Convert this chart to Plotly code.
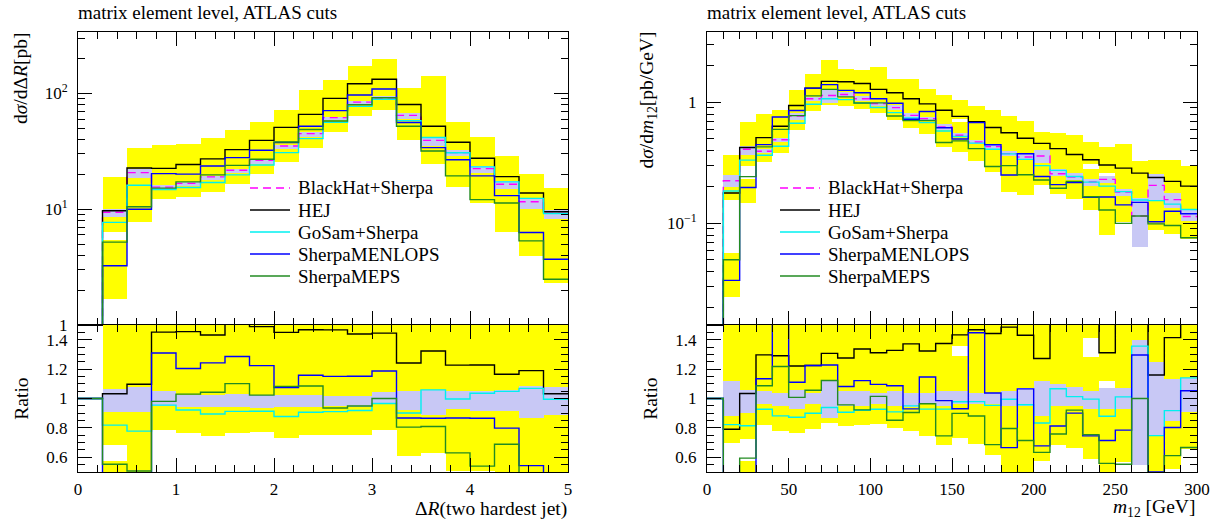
import plotly.graph_objects as go

# ---------------- data: Delta R (left) ----------------
dr_edges = [0.0, 0.25, 0.5, 0.75, 1.0, 1.25, 1.5, 1.75, 2.0, 2.25, 2.5,
            2.75, 3.0, 3.25, 3.5, 3.75, 4.0, 4.25, 4.5, 4.75, 5.0]
dr_blackhat = [0, 9.4, 20.7, 15.5, 16.7, 19.0, 21.7, 26.4, 35.1, 44.9, 61.7,
               84.1, 91.8, 64.6, 39.3, 30.8, 22.4, 16.4, 11.6, 9.2]
dr_hej = [0, 9.7, 22.7, 22.5, 24.3, 27.2, 32.7, 39.3, 50.9, 65.9, 90.5,
          121, 132.6, 80.2, 52, 37.8, 27.5, 19.1, 13.8, 9.5]
dr_gosam = [0, 7.7, 16.1, 14.8, 15.4, 17.0, 19.8, 24.1, 30.8, 40.7, 56.2,
            77.2, 88.7, 58.2, 41.6, 30.7, 23.2, 17.2, 12.4, 9.15]
dr_menlops = [0, 3.25, 10.0, 20.3, 20.1, 23.6, 27.9, 32.3, 37.7, 52, 71,
              96.8, 109, 56, 34.0, 26.7, 19.4, 13.1, 6.3, 3.7]
dr_meps = [0, 5.2, 10.5, 15.2, 17.2, 19.8, 23.9, 27, 38, 48.7, 57.7,
           79.8, 91.8, 52, 31.8, 19.4, 12.1, 11.3, 5.33, 2.48]
# BlackHat uncertainty (percent up / down)
dr_bh_up = [0, 6.4, 7.8, 4.8, 2.5, 2.5, 3.2, 2.5, 2.5, 2.5, 2,
            2, 4.1, 4.8, 5.9, 4.8, 4.8, 5.9, 8.2, 7.8]
dr_bh_dn = [0, 9.5, 9.5, 5.4, 5.9, 5.9, 5.9, 6.6, 6.1, 6, 5,
            6, 3.8, 7.7, 11, 7.2, 8.4, 8.2, 13.4, 11.1]
# yellow uncertainty bands (two bands)
dr_yel_a_lo = [None, 6.4, 7.8, 12.2, 12.8, 14.1, 16.6, 20.3, 25.6, 33.8, 46.4,
               63.4, 72, 39.3, 24.8, 15.6, 11.4, 6.4, 3.96, 2.32]
dr_yel_a_hi = [None, 18.8, 33.8, 36, 36.5, 41.2, 48, 56.6, 72, 107.6, 131,
               173, 200, 112, 140, 56.2, 41.8, 28.8, 20, 15.1]
dr_yel_b_lo = [None, 1.68] + [None] * 18
dr_yel_b_hi = [None, 5.4] + [None] * 18

# ---------------- data: m12 (right) ----------------
m12_edges = [0, 10, 20, 30, 40, 50, 60, 70, 80, 90, 100, 110, 120, 130, 140, 150,
             160, 170, 180, 190, 200, 210, 220, 230, 240, 250, 260, 270, 280, 290, 300]
m12_blackhat = [0, 0.225, 0.409, 0.394, 0.491, 0.77, 1.07, 1.14, 1.16, 1.07, 0.976,
                0.904, 0.78, 0.733, 0.625, 0.534, 0.47, 0.43, 0.377, 0.353, 0.36,
                0.257, 0.241, 0.22, 0.231, 0.181, 0.115, 0.206, 0.157, 0.114]
m12_hej = [0, 0.178, 0.423, 0.511, 0.634, 0.94, 1.31, 1.49, 1.48, 1.43, 1.28,
           1.20, 1.07, 0.97, 0.859, 0.765, 0.69, 0.62, 0.56, 0.505, 0.458,
           0.414, 0.37, 0.335, 0.303, 0.286, 0.26, 0.239, 0.222, 0.203]
m12_gosam = [0, 0.185, 0.333, 0.365, 0.433, 0.672, 0.963, 1.07, 1.052, 0.985, 0.905,
             0.822, 0.741, 0.68, 0.58, 0.522, 0.46, 0.41, 0.375, 0.338, 0.30,
             0.274, 0.244, 0.219, 0.203, 0.183, 0.156, 0.154, 0.144, 0.13]
m12_menlops = [0, 0.0338, 0.198, 0.447, 0.757, 0.855, 1.31, 1.40, 1.255, 1.20, 1.07,
               0.982, 0.725, 0.84, 0.616, 0.497, 0.68, 0.446, 0.251, 0.376, 0.244,
               0.209, 0.217, 0.164, 0.165, 0.142, 0.149, 0.103, 0.126, 0.12]
m12_meps = [0, 0.050, 0.243, 0.428, 0.598, 0.776, 1.13, 1.28, 1.11, 0.987, 0.99,
            0.77, 0.706, 0.707, 0.466, 0.48, 0.414, 0.295, 0.30, 0.252, 0.228,
            0.195, 0.222, 0.166, 0.129, 0.10, 0.115, 0.099, 0.096, 0.076]
m12_bh_up = [0, 12, 6, 5, 4, 6, 4, 12, 5, 5, 4, 5, 4, 4, 5, 5, 4, 4, 5, 7, 12,
             10, 8, 5, 7, 7, 40, 25, 13, 14]
m12_bh_dn = [0, 12, 10, 4, 5, 7, 4, 13, 5, 5, 4, 5, 6, 4, 5, 4, 4, 4, 5, 5, 12,
             5, 5, 7, 7, 7, 45, 25, 15, 9]
m12_yel_a_lo = [None, 0.157, 0.296, 0.323, 0.383, 0.59, 0.85, 0.95, 0.94, 0.88, 0.81,
                0.72, 0.61, 0.547, 0.428, 0.726, 0.325, 0.265, 0.18, 0.17, 0.206,
                0.176, 0.16, 0.31, 0.259, 0.103, 0.16, 0.0874, 0.082, 0.0747]
m12_yel_a_hi = [None, 0.365, 0.687, 0.807, 0.859, 1.256, 1.70, 2.25, 1.90, 1.84, 1.96,
                1.57, 1.57, 1.30, 1.14, 1.04, 0.927, 0.859, 0.766, 0.70, 0.568,
                0.56, 0.534, 0.47, 0.427, 0.456, 0.33, 0.332, 0.332, 0.297]
m12_yel_b_lo = [None, 0.0246, 0.146] + [None] * 12 + [0.39] + [None] * 7 + [0.13, 0.0796] + [None] * 5
m12_yel_b_hi = [None, 0.0569, 0.234] + [None] * 12 + [0.689] + [None] * 7 + [0.2816, 0.245] + [None] * 5

series_names = ["BlackHat+Sherpa", "HEJ", "GoSam+Sherpa", "SherpaMENLOPS", "SherpaMEPS"]
series_colors = ["#ff00ff", "#000000", "#00f0f0", "#0000ff", "#228b22"]
series_dash = ["8px,5px", "solid", "solid", "solid", "solid"]

YELLOW = "#ffff00"
LAVENDER = "#c8c8f5"
FONT = "Liberation Serif"
W, H = 1217, 522


def px_x(p):
    return p / W


def px_y(p):
    return 1 - p / H


def step_xy(edges, vals, floor=None):
    ys = [(floor if (floor is not None and v <= 0) else v) for v in vals]
    return list(edges), ys + [ys[-1]]


def centers(edges):
    return [(a + b) / 2 for a, b in zip(edges[:-1], edges[1:])]


def widths(edges):
    return [b - a for a, b in zip(edges[:-1], edges[1:])]


def ratio(vals, ref):
    return [v / r if r > 0 else 1.0 for v, r in zip(vals, ref)]


def band_bar(edges, lo, hi, color, xa, ya, scale=None):
    base, size = [], []
    for i, (l, h) in enumerate(zip(lo, hi)):
        if l is None or h is None:
            base.append(None)
            size.append(None)
            continue
        s = scale[i] if scale is not None else 1.0
        if s is None or s <= 0:
            base.append(None)
            size.append(None)
            continue
        base.append(l / s)
        size.append((h - l) / s)
    return go.Bar(x=centers(edges), y=size, base=base, width=widths(edges),
                  marker=dict(color=color, line=dict(width=0)), xaxis=xa, yaxis=ya,
                  showlegend=False, hoverinfo="skip")


fig = go.Figure()


def add_panel(edges, bh, series, bh_up, bh_dn, ya_lo, ya_hi, yb_lo, yb_hi,
              xm, ym, xr, yr):
    fig.add_trace(band_bar(edges, ya_lo, ya_hi, YELLOW, xm, ym))
    fig.add_trace(band_bar(edges, yb_lo, yb_hi, YELLOW, xm, ym))
    lav_lo = [b * (1 - d / 100) if b > 0 else None for b, d in zip(bh, bh_dn)]
    lav_hi = [b * (1 + u / 100) if b > 0 else None for b, u in zip(bh, bh_up)]
    fig.add_trace(band_bar(edges, lav_lo, lav_hi, LAVENDER, xm, ym))
    sc = [b if b > 0 else None for b in bh]
    fig.add_trace(band_bar(edges, ya_lo, ya_hi, YELLOW, xr, yr, sc))
    fig.add_trace(band_bar(edges, yb_lo, yb_hi, YELLOW, xr, yr, sc))
    fig.add_trace(band_bar(edges, lav_lo, lav_hi, LAVENDER, xr, yr, sc))
    for k, vals in enumerate(series):
        x, y = step_xy(edges, vals, floor=1e-6)
        fig.add_trace(go.Scatter(x=x, y=y, mode="lines", line_shape="hv",
                                 line=dict(color=series_colors[k], width=1.4,
                                           dash=series_dash[k]),
                                 xaxis=xm, yaxis=ym, showlegend=False,
                                 hoverinfo="skip"))
    for k, vals in enumerate(series):
        if k == 0:
            continue
        x, y = step_xy(edges, ratio(vals, bh))
        fig.add_trace(go.Scatter(x=x, y=y, mode="lines", line_shape="hv",
                                 line=dict(color=series_colors[k], width=1.4),
                                 xaxis=xr, yaxis=yr, showlegend=False,
                                 hoverinfo="skip"))


add_panel(dr_edges, dr_blackhat,
          [dr_blackhat, dr_hej, dr_gosam, dr_menlops, dr_meps],
          dr_bh_up, dr_bh_dn, dr_yel_a_lo, dr_yel_a_hi, dr_yel_b_lo, dr_yel_b_hi,
          "x", "y", "x2", "y2")
add_panel(m12_edges, m12_blackhat,
          [m12_blackhat, m12_hej, m12_gosam, m12_menlops, m12_meps],
          m12_bh_up, m12_bh_dn, m12_yel_a_lo, m12_yel_a_hi, m12_yel_b_lo, m12_yel_b_hi,
          "x3", "y3", "x4", "y4")

tickfont = dict(family=FONT, size=17, color="black")
common = dict(showline=True, linecolor="black", linewidth=1, mirror="allticks",
              ticks="inside", ticklen=14, tickwidth=1, tickcolor="black",
              showgrid=False, zeroline=False, tickfont=tickfont, automargin=False)

left_dom = [px_x(78), px_x(568)]
right_dom = [px_x(707), px_x(1197)]
main_dom = [px_y(325), px_y(32)]
ratio_dom = [px_y(472), px_y(325)]

dr_major = [0, 1, 2, 3, 4, 5]
m12_major = [0, 50, 100, 150, 200, 250, 300]
ratio_major = [0.6, 0.8, 1.0, 1.2, 1.4]
ratio_labels = ["0.6", "0.8", "1", "1.2", "1.4"]
minor_x_dr = dict(ticks="inside", ticklen=7, tickcolor="black", dtick=0.2, tick0=0)
minor_x_m12 = dict(ticks="inside", ticklen=7, tickcolor="black", dtick=10, tick0=0)
minor_ratio = dict(ticks="inside", ticklen=7, tickcolor="black", dtick=0.05, tick0=0.5)
log_minor_left = [2, 3, 4, 5, 6, 7, 8, 9, 20, 30, 40, 50, 60, 70, 80, 90, 200, 300]
log_minor_right = [0.02, 0.03, 0.04, 0.05, 0.06, 0.07, 0.08, 0.09,
                   0.2, 0.3, 0.4, 0.5, 0.6, 0.7, 0.8, 0.9, 2, 3]

fig.update_layout(
    width=W, height=H, margin=dict(l=0, r=0, t=0, b=0, pad=0), autosize=False,
    plot_bgcolor="white", paper_bgcolor="white", barmode="overlay", bargap=0,
    showlegend=False,
    xaxis=dict(domain=left_dom, anchor="y", range=[0, 5], tickvals=dr_major,
               showticklabels=False, minor=minor_x_dr, **common),
    yaxis=dict(domain=main_dom, anchor="x", type="log", range=[0, 2.53],
               tickvals=[1, 10, 100], ticktext=["1", "10<sup>1</sup>", "10<sup>2</sup>"],
               ticklabelstandoff=6,
               minor=dict(ticks="inside", ticklen=7, tickcolor="black",
                          tickvals=log_minor_left), **common),
    xaxis2=dict(domain=left_dom, anchor="y2", range=[0, 5], tickvals=dr_major,
                minor=minor_x_dr, ticklabelstandoff=2, **common),
    yaxis2=dict(domain=ratio_dom, anchor="x2", range=[0.5, 1.5], tickvals=ratio_major,
                ticktext=ratio_labels, minor=minor_ratio, ticklabelstandoff=6, **common),
    xaxis3=dict(domain=right_dom, anchor="y3", range=[0, 300], tickvals=m12_major,
                showticklabels=False, minor=minor_x_m12, **common),
    yaxis3=dict(domain=main_dom, anchor="x3", type="log", range=[-1.84, 0.581],
                tickvals=[0.1, 1], ticktext=["10<sup>−1</sup>", "1"],
                ticklabelstandoff=6,
                minor=dict(ticks="inside", ticklen=7, tickcolor="black",
                           tickvals=log_minor_right), **common),
    xaxis4=dict(domain=right_dom, anchor="y4", range=[0, 300], tickvals=m12_major,
                minor=minor_x_m12, ticklabelstandoff=2, **common),
    yaxis4=dict(domain=ratio_dom, anchor="x4", range=[0.5, 1.5], tickvals=ratio_major,
                ticktext=ratio_labels, minor=minor_ratio, ticklabelstandoff=6, **common),
)

txt = dict(family=FONT, size=19.5, color="black")
leg_font = dict(family=FONT, size=19, color="black")
ann = []
for x0 in (76, 705):
    ann.append(dict(text="matrix element level, ATLAS cuts", x=px_x(x0), y=px_y(12.5),
                    xref="paper", yref="paper", xanchor="left", yanchor="middle",
                    showarrow=False, font=dict(family=FONT, size=19, color="black")))
ann.append(dict(text="d<i>σ</i>/dΔ<i>R</i>[pb]", x=px_x(20), y=px_y(30), xref="paper",
                yref="paper", xanchor="center", yanchor="top", textangle=-90,
                showarrow=False, font=txt))
ann.append(dict(text="d<i>σ</i>/d<i>m</i><sub>12</sub>[pb/GeV]", x=px_x(647), y=px_y(30),
                xref="paper", yref="paper", xanchor="center", yanchor="top",
                textangle=-90, showarrow=False, font=txt))
for xc in (22, 651):
    ann.append(dict(text="Ratio", x=px_x(xc), y=px_y(398.7), xref="paper", yref="paper",
                    xanchor="center", yanchor="middle", textangle=-90,
                    showarrow=False, font=txt))
ann.append(dict(text="Δ<i>R</i>(two hardest jet)", x=px_x(569), y=px_y(522),
                xref="paper", yref="paper", xanchor="right", yanchor="bottom",
                showarrow=False, font=txt))
ann.append(dict(text="<i>m</i><sub>12</sub> [GeV]", x=px_x(1197), y=px_y(522),
                xref="paper", yref="paper", xanchor="right", yanchor="bottom",
                showarrow=False, font=txt))

shapes = []
for lx in (250, 780):
    for k, name in enumerate(series_names):
        yy = 188 + 22 * k
        shapes.append(dict(type="line", xref="paper", yref="paper",
                           x0=px_x(lx), x1=px_x(lx + 40), y0=px_y(yy), y1=px_y(yy),
                           line=dict(color=series_colors[k], width=1.4,
                                     dash=series_dash[k])))
        ann.append(dict(text=name, x=px_x(lx + 46), y=px_y(yy), xref="paper",
                        yref="paper", xanchor="left", yanchor="middle",
                        showarrow=False, font=leg_font))

fig.update_layout(annotations=ann, shapes=shapes)

post = ("document.documentElement.style.margin='0';"
        "document.body.style.margin='0';document.body.style.padding='0';"
        "document.body.style.overflow='hidden';"
        "var gd=document.getElementById('{plot_id}');"
        "Plotly.relayout(gd,{width:1217,height:522});")
fig.write_html("out.html", config={"responsive": False, "displayModeBar": False},
               post_script=post)
